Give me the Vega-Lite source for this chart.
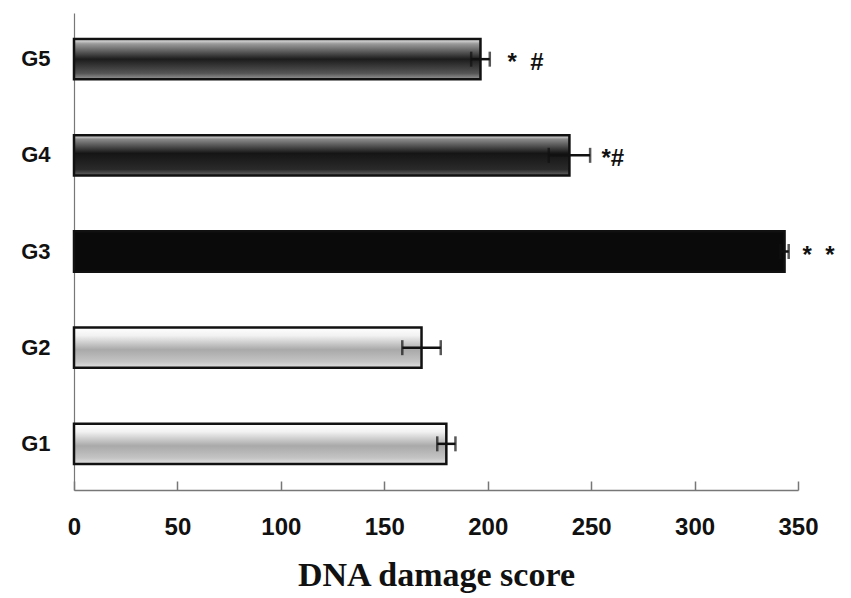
{
  "$schema": "https://vega.github.io/schema/vega-lite/v6.json",
  "width": 724,
  "height": 477,
  "autosize": {"type": "none"},
  "padding": {"left": 74, "top": 13, "right": 53, "bottom": 108},
  "background": "white",
  "config": {"view": {"stroke": null}},
  "resolve": {"axis": {"x": "independent"}},
  "data": {
    "values": [
      {"group": "G1", "score": 180, "err": 4.4, "sig": ""},
      {"group": "G2", "score": 168, "err": 9.3, "sig": ""},
      {"group": "G3", "score": 343.5, "err": 2, "sig": "*\u00a0\u00a0*"},
      {"group": "G4", "score": 239.5, "err": 10, "sig": "*#"},
      {"group": "G5", "score": 196.5, "err": 4.5, "sig": "*\u00a0\u00a0#"}
    ]
  },
  "encoding": {
    "y": {
      "field": "group",
      "type": "nominal",
      "sort": ["G5", "G4", "G3", "G2", "G1"],
      "scale": {"paddingInner": 0.58, "paddingOuter": 0.27},
      "axis": {
        "title": null,
        "ticks": false,
        "domainColor": "#777",
        "domainWidth": 1.2,
        "labelFont": "Liberation Sans",
        "labelFontWeight": "bold",
        "labelFontSize": 22,
        "labelColor": "#111",
        "labelPadding": 24
      }
    },
    "x": {
      "field": "score",
      "type": "quantitative",
      "scale": {"domain": [0, 350], "nice": false},
      "axis": null
    }
  },
  "layer": [
    {
      "transform": [{"filter": "datum.group == 'G1' || datum.group == 'G2'"}],
      "mark": {
        "type": "bar",
        "stroke": "#111",
        "strokeWidth": 2.5,
        "color": {
          "gradient": "linear", "x1": 0, "y1": 0, "x2": 0, "y2": 1,
          "stops": [
            {"offset": 0, "color": "#ffffff"},
            {"offset": 0.2, "color": "#f2f2f2"},
            {"offset": 0.55, "color": "#a9a9a9"},
            {"offset": 0.85, "color": "#c4c4c4"},
            {"offset": 1, "color": "#e2e2e2"}
          ]
        }
      },
      "encoding": {
        "x": {
          "field": "score",
          "type": "quantitative",
          "axis": {
            "orient": "bottom",
            "offset": -9,
            "title": null,
            "domain": false,
            "labels": false,
            "grid": false,
            "values": [0, 50, 100, 150, 200, 250, 300, 350],
            "ticks": true,
            "tickSize": 9,
            "tickColor": "#777",
            "tickWidth": 1.5
          }
        }
      }
    },
    {
      "transform": [{"filter": "datum.group == 'G5'"}],
      "mark": {
        "type": "bar",
        "stroke": "#111",
        "strokeWidth": 2.5,
        "color": {
          "gradient": "linear", "x1": 0, "y1": 0, "x2": 0, "y2": 1,
          "stops": [
            {"offset": 0, "color": "#f4f4f4"},
            {"offset": 0.12, "color": "#9a9a9a"},
            {"offset": 0.5, "color": "#1c1c1c"},
            {"offset": 0.85, "color": "#555555"},
            {"offset": 1, "color": "#999999"}
          ]
        }
      }
    },
    {
      "transform": [{"filter": "datum.group == 'G4'"}],
      "mark": {
        "type": "bar",
        "stroke": "#111",
        "strokeWidth": 2.5,
        "color": {
          "gradient": "linear", "x1": 0, "y1": 0, "x2": 0, "y2": 1,
          "stops": [
            {"offset": 0, "color": "#f4f4f4"},
            {"offset": 0.1, "color": "#8a8a8a"},
            {"offset": 0.45, "color": "#151515"},
            {"offset": 0.85, "color": "#2a2a2a"},
            {"offset": 1, "color": "#666666"}
          ]
        }
      }
    },
    {
      "transform": [{"filter": "datum.group == 'G3'"}],
      "mark": {"type": "bar", "stroke": "#111", "strokeWidth": 2.5, "color": "#0a0a0a"},
      "encoding": {
        "x": {
          "field": "score",
          "type": "quantitative",
          "axis": {
            "orient": "bottom",
            "title": "DNA damage score",
            "values": [0, 50, 100, 150, 200, 250, 300, 350],
            "grid": false,
            "ticks": false,
            "labelFlush": false,
            "domainColor": "#777",
            "domainWidth": 1.5,
            "labelFont": "Liberation Sans",
            "labelFontWeight": "bold",
            "labelFontSize": 24,
            "labelColor": "#111",
            "labelPadding": 25,
            "titleFont": "Liberation Serif",
            "titleFontWeight": "bold",
            "titleFontSize": 34,
            "titleColor": "#111",
            "titlePadding": 19
          }
        }
      }
    },
    {
      "mark": {
        "type": "errorbar",
        "color": "#111",
        "thickness": 2.5,
        "ticks": {"size": 15, "thickness": 2.5, "color": "#111"}
      },
      "encoding": {
        "xError": {"field": "err"}
      }
    },
    {
      "transform": [{"filter": "datum.group == 'G5'"}],
      "mark": {
        "type": "text", "align": "left", "baseline": "middle", "dx": 27, "dy": 4,
        "font": "Liberation Sans", "fontWeight": "bold", "fontSize": 24, "color": "#111"
      },
      "encoding": {"text": {"field": "sig"}}
    },
    {
      "transform": [{"filter": "datum.group == 'G4'"}],
      "mark": {
        "type": "text", "align": "left", "baseline": "middle", "dx": 32, "dy": 4,
        "font": "Liberation Sans", "fontWeight": "bold", "fontSize": 24, "color": "#111"
      },
      "encoding": {"text": {"field": "sig"}}
    },
    {
      "transform": [{"filter": "datum.group == 'G3'"}],
      "mark": {
        "type": "text", "align": "left", "baseline": "middle", "dx": 18, "dy": 4,
        "font": "Liberation Sans", "fontWeight": "bold", "fontSize": 24, "color": "#111"
      },
      "encoding": {"text": {"field": "sig"}}
    }
  ]
}
